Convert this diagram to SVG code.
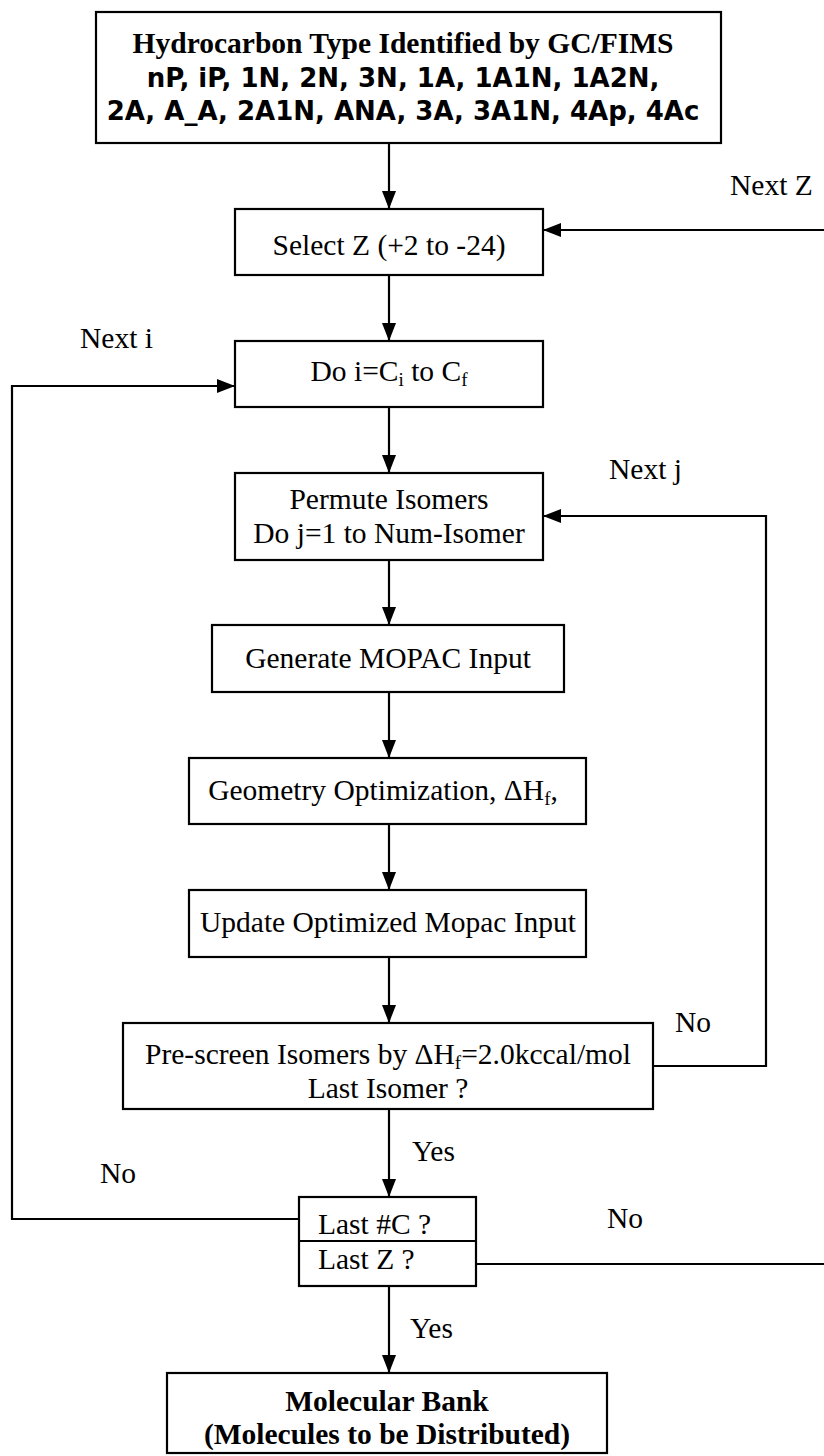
<svg xmlns="http://www.w3.org/2000/svg" width="824" height="1456" viewBox="0 0 824 1456">
<style>
.box{fill:#fff;stroke:#000;stroke-width:2.2}
.t{font-family:"Liberation Serif","Times New Roman",serif;font-size:29.5px;fill:#000}
.c{text-anchor:middle}
.b{font-weight:bold}
.s{font-family:"DejaVu Sans",Verdana,sans-serif;font-weight:bold;font-size:26px;text-anchor:middle;fill:#000}
.ln{fill:none;stroke:#000;stroke-width:2.2}
.sub{font-size:19px}
</style>
<defs>
<marker id="ah" markerUnits="userSpaceOnUse" markerWidth="19" markerHeight="15" refX="18" refY="7" orient="auto">
<path d="M0,0 L18,7 L0,14 z" fill="#000"/>
</marker>
</defs>
<g id="connectors">
<path class="ln" d="M389,143 V209" marker-end="url(#ah)"/>
<path class="ln" d="M389,275 V341" marker-end="url(#ah)"/>
<path class="ln" d="M389,407 V473" marker-end="url(#ah)"/>
<path class="ln" d="M389,560 V625" marker-end="url(#ah)"/>
<path class="ln" d="M389,692 V758" marker-end="url(#ah)"/>
<path class="ln" d="M389,824 V890" marker-end="url(#ah)"/>
<path class="ln" d="M389,957 V1023" marker-end="url(#ah)"/>
<path class="ln" d="M389,1109 V1197" marker-end="url(#ah)"/>
<path class="ln" d="M389,1286 V1373" marker-end="url(#ah)"/>
<path class="ln" d="M476,1264 H832 V230 H543" marker-end="url(#ah)"/>
<path class="ln" d="M299,1219 H12 V386 H235" marker-end="url(#ah)"/>
<path class="ln" d="M653,1066 H766 V516 H543" marker-end="url(#ah)"/>
<text class="t" x="730" y="195">Next Z</text>
<text class="t" x="80" y="348">Next i</text>
<text class="t" x="609" y="479">Next j</text>
<text class="t" x="675" y="1032">No</text>
<text class="t" x="412" y="1161">Yes</text>
<text class="t" x="100" y="1183">No</text>
<text class="t" x="607" y="1228">No</text>
<text class="t" x="410" y="1338">Yes</text>
</g>
<g id="n-hydrocarbon">
<rect class="box" x="96" y="12" width="625" height="131"/>
<text class="t c b" x="403" y="53" font-size="31">Hydrocarbon Type Identified by GC/FIMS</text>
<text class="s" x="403" y="87">nP, iP, 1N, 2N, 3N, 1A, 1A1N, 1A2N,</text>
<text class="s" x="403" y="120">2A, A_A, 2A1N, ANA, 3A, 3A1N, 4Ap, 4Ac</text>
</g>
<g id="n-selectz">
<rect class="box" x="235" y="209" width="308" height="66"/>
<text class="t c" x="389" y="255">Select Z (+2 to -24)</text>
</g>
<g id="n-doi">
<rect class="box" x="235" y="341" width="308" height="66"/>
<text class="t c" x="389" y="381">Do i=C<tspan class="sub" dy="5">i</tspan><tspan dy="-5"> to C</tspan><tspan class="sub" dy="5">f</tspan></text>
</g>
<g id="n-permute">
<rect class="box" x="235" y="473" width="308" height="87"/>
<text class="t c" x="389" y="509">Permute Isomers</text>
<text class="t c" x="389" y="543">Do j=1 to Num-Isomer</text>
</g>
<g id="n-generate">
<rect class="box" x="212" y="625" width="352" height="67"/>
<text class="t c" x="388" y="668">Generate MOPAC Input</text>
</g>
<g id="n-geometry">
<rect class="box" x="189" y="758" width="397" height="66"/>
<text class="t c" x="383" y="800">Geometry Optimization, ΔH<tspan class="sub" dy="5">f</tspan><tspan dy="-5">,</tspan></text>
</g>
<g id="n-update">
<rect class="box" x="189" y="890" width="397" height="67"/>
<text class="t c" x="388" y="932">Update Optimized Mopac Input</text>
</g>
<g id="n-prescreen">
<rect class="box" x="123" y="1023" width="530" height="86"/>
<text class="t c" x="388" y="1064">Pre-screen Isomers by ΔH<tspan class="sub" dy="5">f</tspan><tspan dy="-5">=2.0kccal/mol</tspan></text>
<text class="t c" x="388" y="1098">Last Isomer ?</text>
</g>
<g id="n-last">
<rect class="box" x="299" y="1197" width="177" height="89"/>
<line class="ln" x1="299" y1="1241" x2="476" y2="1241"/>
<text class="t" x="318" y="1234">Last #C ?</text>
<text class="t" x="318" y="1269">Last Z ?</text>
</g>
<g id="n-bank">
<rect class="box" x="167" y="1373" width="440" height="80"/>
<text class="t c b" x="387" y="1411" font-size="30">Molecular Bank</text>
<text class="t c b" x="387" y="1444" font-size="30">(Molecules to be Distributed)</text>
</g>
</svg>
